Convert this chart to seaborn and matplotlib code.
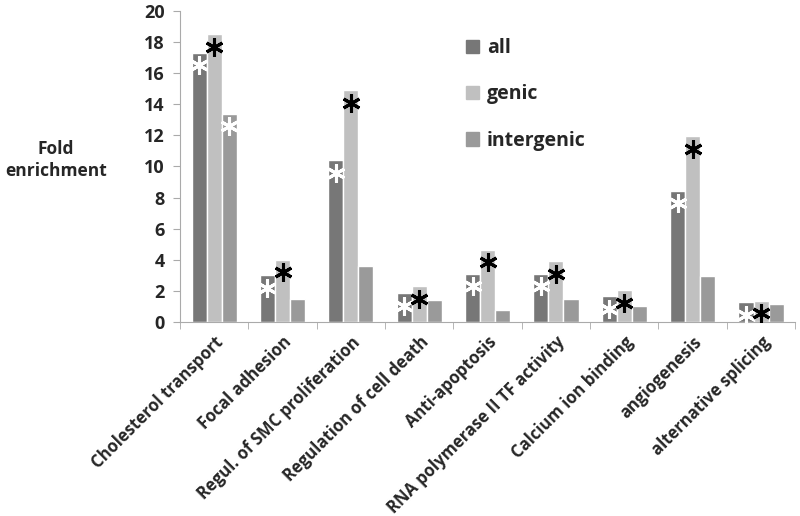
import numpy as np
import pandas as pd
import matplotlib
matplotlib.use('Agg')
import matplotlib.pyplot as plt
import seaborn as sb
from matplotlib.patches import Patch

categories = ['Cholesterol transport', 'Focal adhesion', 'Regul. of SMC proliferation',
              'Regulation of cell death', 'Anti-apoptosis', 'RNA polymerase II TF activity',
              'Calcium ion binding', 'angiogenesis', 'alternative splicing']
all_vals = [17.3, 3.0, 10.4, 1.85, 3.1, 3.1, 1.65, 8.45, 1.27]
genic_vals = [18.5, 4.0, 14.9, 2.3, 4.65, 3.9, 2.05, 11.95, 1.38]
intergenic_vals = [13.4, 1.45, 3.6, 1.4, 0.78, 1.5, 1.0, 2.95, 1.16]
groups = ['all', 'genic', 'intergenic']
# stars: 'w' white, 'k' black, '' none
stars_all = ['w'] * 9
stars_genic = ['k'] * 9
stars_inter = ['w', '', '', '', '', '', '', '', '']

df = pd.DataFrame({
    'category': categories * 3,
    'group': ['all'] * 9 + ['genic'] * 9 + ['intergenic'] * 9,
    'value': all_vals + genic_vals + intergenic_vals,
})
colors = ['#777777', '#c0c0c0', '#9a9a9a']

sb.set_style('white')
plt.rcParams['font.family'] = ['Open Sans', 'DejaVu Sans']
plt.rcParams['font.weight'] = 'bold'

fig = plt.figure(figsize=(8, 5.16), dpi=100)
ax = fig.add_axes([0.225, 0.376, 0.769, 0.603])
sb.barplot(data=df, x='category', y='value', hue='group', palette=colors,
           width=0.66, gap=0, saturation=1, legend=False, ax=ax)

# asterisks just under the top of each bar
for cont, marks in zip(ax.containers, [stars_all, stars_genic, stars_inter]):
    for bar, m in zip(cont, marks):
        if m:
            ax.plot(bar.get_x() + bar.get_width() / 2, bar.get_height() - 0.8,
                    marker=(6, 2, 0), markersize=13, markeredgewidth=2.2,
                    color='white' if m == 'w' else 'black', zorder=5)

ax.set_ylim(0, 20)
ax.set_xlim(-0.5, 8.5)
ax.set_yticks(np.arange(0, 21, 2))
ax.set_ylabel('')
ax.set_xlabel('')
ax.tick_params(axis='y', labelsize=13, length=5, color='#aaaaaa', left=True, pad=6)
ax.set_xticks(np.arange(9))
ax.set_xticklabels(categories, rotation=45, ha='right', rotation_mode='anchor', fontsize=12)
ax.tick_params(axis='x', length=0, pad=8)
ax.set_xticks(np.arange(-0.5, 9, 1), minor=True)
ax.tick_params(axis='x', which='minor', length=5, color='#aaaaaa', bottom=True)
for s in ['top', 'right']:
    ax.spines[s].set_visible(False)
for s in ['left', 'bottom']:
    ax.spines[s].set_color('#aaaaaa')

fig.text(0.07, 0.69, 'Fold\nenrichment', ha='center', va='center', fontsize=12.5,
         fontweight='bold', linespacing=1.35)

handles = [Patch(color=c) for c in colors]
fig.legend(handles, groups, loc='upper left', bbox_to_anchor=(0.56, 0.96), frameon=False,
           fontsize=14, handlelength=0.7, handleheight=0.7, handletextpad=0.4, labelspacing=1.35)

fig.savefig('out.png', dpi=100)
